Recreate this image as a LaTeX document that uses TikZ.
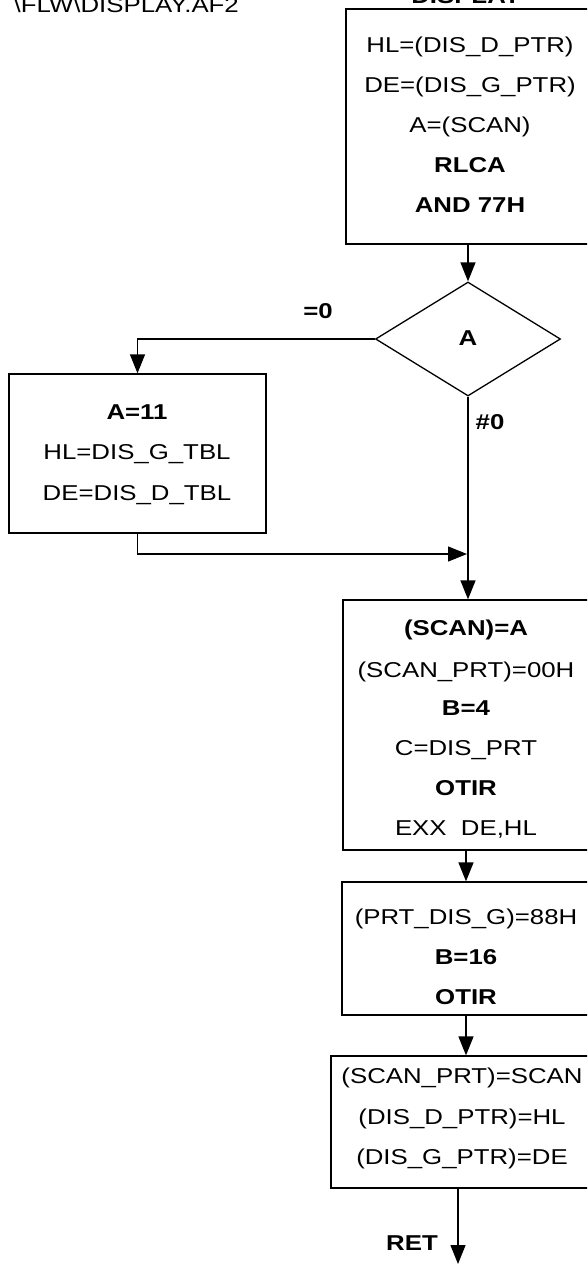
\documentclass[tikz,border=0pt]{standalone}
\usepackage{fontspec}
\usepackage{graphicx}
\setmainfont{Liberation Sans}
\usetikzlibrary{shapes.geometric,arrows.meta}
\newcommand{\stx}[1]{\scalebox{1.2}[1]{#1}}
\tikzset{
  arr/.style={line width=1.3pt,-{Triangle[length=19pt,width=15pt]}},
  boxnode/.style={draw,line width=1.3pt,rectangle,inner sep=0pt},
  txt/.style={inner sep=0pt,text height=15.4pt,text depth=0pt,font=\fontsize{21.5}{24}\selectfont},
  btxt/.style={txt,font=\fontsize{21.5}{24}\selectfont\bfseries},
}
\begin{document}
\begin{tikzpicture}[x=1pt,y=-1pt]
\useasboundingbox (0,0) rectangle (587,1264);
\begin{scope}
\clip (0,0) rectangle (587,1264);
% header texts
\node[inner sep=0pt,anchor=base east,font=\fontsize{21.5}{24}\selectfont] (path) at (239,12) {\stx{\textbackslash FLW\textbackslash DISPLAY.AF2}};
\node[inner sep=0pt,anchor=base,font=\fontsize{21.5}{24}\selectfont\bfseries] (title) at (466,3) {\stx{DISPLAY}};
% boxes
\node[boxnode,minimum width=274pt,minimum height=235pt] (b1) at (483,126.5) {};
\node[draw,line width=1.3pt,diamond,inner sep=0pt,minimum width=185pt,minimum height=114pt] (d) at (468,339) {};
\node[boxnode,minimum width=257pt,minimum height=159pt] (b2) at (137.5,453.5) {};
\node[boxnode,minimum width=277pt,minimum height=250pt] (b3) at (481.5,725) {};
\node[boxnode,minimum width=278pt,minimum height=133pt] (b4) at (481,948.5) {};
\node[boxnode,minimum width=289pt,minimum height=132pt] (b5) at (475.5,1122) {};
\coordinate (merge) at (467,554);
\coordinate (end) at (458,1264);
% texts box 1
\node[txt] (t11) at (470,45) {\stx{HL=(DIS\_D\_PTR)}};
\node[txt] (t12) at (470,85) {\stx{DE=(DIS\_G\_PTR)}};
\node[txt] (t13) at (470,125) {\stx{A=(SCAN)}};
\node[btxt] (t14) at (470,165) {\stx{RLCA}};
\node[btxt] (t15) at (470,205) {\stx{AND 77H}};
% diamond
\node[btxt] (tA) at (468,338) {\stx{A}};
\node[btxt] (lz) at (318,311) {\stx{=0}};
\node[btxt] (lnz) at (490,422) {\stx{\#0}};
% box 2
\node[btxt] (t21) at (137,412) {\stx{A=11}};
\node[txt] (t22) at (137,452) {\stx{HL=DIS\_G\_TBL}};
\node[txt] (t23) at (137,493) {\stx{DE=DIS\_D\_TBL}};
% box 3
\node[btxt] (t31) at (466,628) {\stx{(SCAN)=A}};
\node[txt] (t32) at (466,670) {\stx{(SCAN\_PRT)=00H}};
\node[btxt] (t33) at (466,708) {\stx{B=4}};
\node[txt] (t34) at (466,748) {\stx{C=DIS\_PRT}};
\node[btxt] (t35) at (466,788) {\stx{OTIR}};
\node[txt] (t36) at (466,828) {\stx{EXX\ \ DE,HL}};
% box 4
\node[txt] (t41) at (466,917) {\stx{(PRT\_DIS\_G)=88H}};
\node[btxt] (t42) at (466,957) {\stx{B=16}};
\node[btxt] (t43) at (466,997) {\stx{OTIR}};
% box 5
\node[txt] (t51) at (462,1076) {\stx{(SCAN\_PRT)=SCAN}};
\node[txt] (t52) at (462,1117) {\stx{(DIS\_D\_PTR)=HL}};
\node[txt] (t53) at (462,1157) {\stx{(DIS\_G\_PTR)=DE}};
\node[btxt] (ret) at (412,1243) {\stx{RET}};
% connectors
\draw[arr] (d.north |- b1.south) -- (d.north);
\draw[arr] (d.west) -| (b2.north);
\draw[arr] (d.south) -- (d.south |- b3.north);
\draw[arr] (b2.south) |- (merge);
\draw[arr] (t36 |- b3.south) -- (t36 |- b4.north);
\draw[arr] (t41 |- b4.south) -- (t41 |- b5.north);
\draw[arr] (end |- b5.south) -- (end);
\end{scope}
\end{tikzpicture}
\end{document}
